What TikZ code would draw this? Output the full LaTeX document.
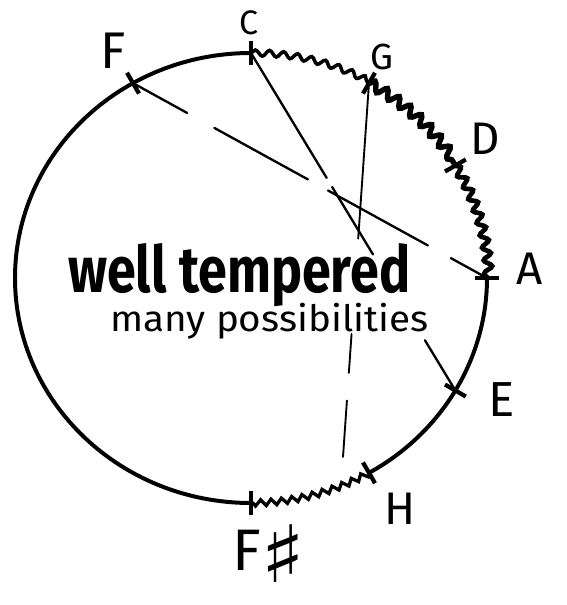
\documentclass[tikz,border=0pt]{standalone}
\usepackage{graphicx}
\usepackage{fontspec}
\setmainfont{Fira Sans}
\newfontfamily\symbolfont{DejaVu Sans}
\usetikzlibrary{calc, decorations.pathmorphing}

\tikzset{
  rim/.style={line width=3.4pt, line cap=round},
  wave/.style={line width=#1, line cap=round, decorate},
  tick/.style={line width=3.6pt},
  chord/.style={line width=2pt, line cap=round},
  notelabel/.style={inner sep=0pt, font=\fontsize{#1}{#1}\selectfont},
}

\begin{document}
\begin{tikzpicture}[x=0.03cm, y=0.03cm]
  \useasboundingbox (-251,-327) rectangle (316,278);
  % Notes, circle and waves:
  \foreach \name/\ang in {C/90, G/60, D/30, A/0, E/-30, H/-60, Fs/-90, F/120}
    \coordinate (\name) at (\ang:236 and 225);
  \coordinate (G-end) at (92,-179);
  \draw[rim] (Fs) arc[start angle=-90, end angle=-270, x radius=236, y radius=225];
  \draw[rim] (A) arc[start angle=0, end angle=-60, x radius=236, y radius=225];
  \draw[wave=3pt, decoration={snake, amplitude=2.6pt, segment length=12pt}]
    (C) arc[start angle=90, end angle=60, x radius=236, y radius=225];
  \draw[wave=4.6pt, decoration={snake, amplitude=4pt, segment length=12pt}]
    (G) arc[start angle=60, end angle=30, x radius=236, y radius=225];
  \draw[wave=4pt, decoration={snake, amplitude=3.4pt, segment length=11pt}]
    (D) arc[start angle=30, end angle=0, x radius=236, y radius=225];
  \draw[wave=2.8pt, decoration={zigzag, amplitude=2.6pt, segment length=9pt}]
    (H) arc[start angle=-60, end angle=-90, x radius=236, y radius=225];
  \foreach \ang in {90, 60, 30, 0, -30, -60, -90, 120}
    \draw[tick] (\ang:224 and 213) -- (\ang:248 and 237);
  % Thirds:
  \foreach \s/\e in {0/.153, .23/.494, .551/.833, .898/1}
    \draw[chord] ($(F)!\s!(A)$) -- ($(F)!\e!(A)$);
  \foreach \s/\e in {0/.37, .397/.597, .851/1}
    \draw[chord] ($(C)!\s!(E)$) -- ($(C)!\e!(E)$);
  \foreach \s/\e in {0/.416, .671/.775, .849/1}
    \draw[chord, line width=1.6pt] ($(G)!\s!(G-end)$) -- ($(G)!\e!(G-end)$);
  % Labels:
  \node[notelabel=44pt] (F-label) at (-138,227) {F};
  \node[notelabel=29pt] (C-label) at (-2,255) {C};
  \node[notelabel=31pt] (G-label) at (131,221) {G};
  \node[notelabel=39pt] (D-label) at (234,139) {D};
  \node[notelabel=39pt] (A-label) at (279,9) {A};
  \node[notelabel=42pt] (E-label) at (251,-122) {E};
  \node[notelabel=39pt] (H-label) at (149,-231) {H};
  \node[notelabel=50pt, anchor=base west] (Fs-label) at (-19,-292)
    {F\raisebox{-11pt}{\scalebox{1.6}[1.35]{\symbolfont\bfseries ♯}}};
  \node[anchor=base west, inner sep=0pt] (title) at (-183,-14)
    {\resizebox{10.26cm}{1.47cm}{\bfseries well tempered}};
  \node[anchor=base west, inner sep=0pt] (subtitle) at (-141,-53)
    {\resizebox{9.54cm}{0.85cm}{many possibilities}};
\end{tikzpicture}
\end{document}
